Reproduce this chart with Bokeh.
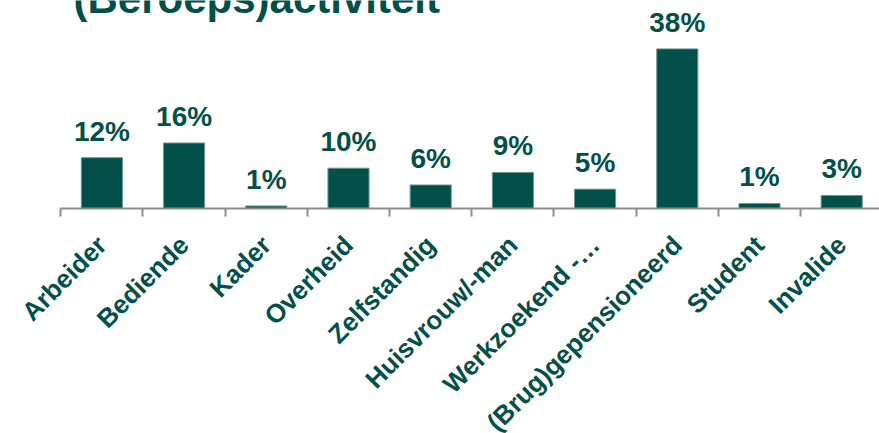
import math
from bokeh.plotting import figure
from bokeh.models import ColumnDataSource, Range1d, FixedTicker, Label
from bokeh.core.properties import value
from bokeh.embed import file_html
from bokeh.resources import INLINE

title_text = "(Beroeps)activiteit"
categories = ["Arbeider", "Bediende", "Kader", "Overheid", "Zelfstandig",
              "Huisvrouw/-man", "Werkzoekend -…", "(Brug)gepensioneerd",
              "Student", "Invalide"]
values = [12.1, 15.6, 0.6, 9.6, 5.6, 8.6, 4.6, 38.0, 1.2, 3.1]

TEAL = "#03504B"
GREY = "#8C8C8C"
FONT = "Liberation Sans"

centers = [i + 0.5 for i in range(len(categories))]
bounds = list(range(len(categories) + 1))
labels = [f"{v:.0f}%" for v in values]

src = ColumnDataSource(dict(x=centers, top=values, label=labels))

p = figure(width=879, height=433, output_backend="svg", toolbar_location=None,
           x_range=Range1d(-0.7336, 9.96), y_range=Range1d(-53.571, 49.524),
           min_border_left=0, min_border_right=0, min_border_top=0,
           min_border_bottom=0)
p.outline_line_color = None
p.grid.visible = False
p.yaxis.visible = False
p.background_fill_color = "white"
p.border_fill_color = "white"

p.vbar(x="x", top="top", width=0.5, bottom=0, source=src,
       fill_color=TEAL, line_color="#6E9591", line_width=1)

p.text(x="x", y="top", text="label", source=src, y_offset=-11,
       text_align="center", text_baseline="bottom",
       text_font=value(FONT), text_font_style="bold",
       text_font_size="28px", text_color=TEAL)

ax = p.xaxis[0]
ax.fixed_location = 0
ax.bounds = (0, len(categories))
ax.ticker = FixedTicker(ticks=centers, minor_ticks=bounds)
ax.major_label_overrides = {c: n for c, n in zip(centers, categories)}
ax.major_label_orientation = math.pi / 4
ax.major_tick_line_color = None
ax.minor_tick_in = 0
ax.minor_tick_out = 8
ax.minor_tick_line_color = GREY
ax.minor_tick_line_width = 2
ax.axis_line_color = GREY
ax.axis_line_width = 2
ax.major_label_text_font = FONT
ax.major_label_text_font_style = "bold"
ax.major_label_text_font_size = "26px"
ax.major_label_text_color = TEAL
ax.major_label_standoff = 24

p.add_layout(Label(x=0.155, y=44.5, text=title_text, text_font=FONT,
                   text_font_style="bold", text_font_size="42px",
                   text_color=TEAL, text_baseline="bottom"))

open("out.html", "w").write(file_html(p, INLINE))
